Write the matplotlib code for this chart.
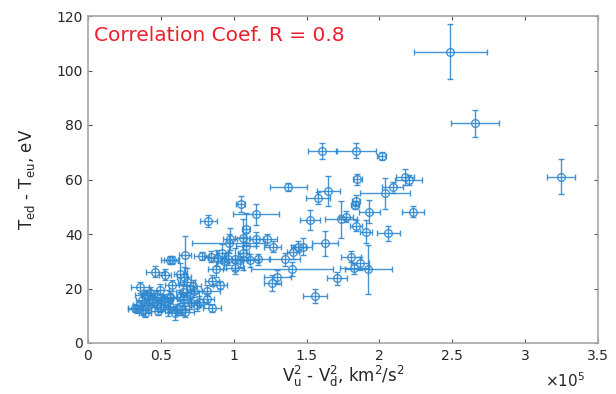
import matplotlib
matplotlib.use("Agg")
import matplotlib.pyplot as plt
import numpy as np

# x: V_u^2 - V_d^2 in units of 1e5 km^2/s^2 ; y: T_ed - T_eu in eV
v2_diff = [2.485, 2.654, 3.244, 1.608, 1.839, 2.016, 1.848, 2.176, 2.200, 2.090,
           1.375, 1.649, 1.579, 2.040, 1.839, 1.832, 1.931, 2.233, 1.734, 1.771,
           1.524, 1.839, 1.908, 2.061, 1.627, 1.478, 1.444, 1.405, 1.352, 1.805,
           1.867, 1.826, 1.924, 1.398, 1.707, 1.558, 1.300, 1.265,
           1.048, 1.153, 0.826, 1.085, 0.975, 1.062, 1.153, 1.226, 0.965, 1.086,
           1.267, 0.666, 0.561, 0.575, 0.780, 0.845, 0.885, 0.930, 0.960, 1.009,
           1.040, 1.066, 1.112, 1.169, 0.920, 1.009, 0.875, 0.906, 0.850,
           0.460, 0.530, 0.631, 0.658, 0.677, 0.357, 0.577, 0.723, 0.815, 0.391,
           0.426, 0.368, 0.448, 0.334, 0.380, 0.494, 0.551, 0.609, 0.666, 0.597,
           0.764, 0.851, 0.815, 0.746, 0.700, 0.631, 0.654, 0.563, 0.528, 0.471,
           0.414, 0.357, 0.391, 0.480, 0.494, 0.654, 0.730, 0.710, 0.520, 0.560,
           0.403, 0.437, 0.323, 0.471, 0.563, 0.643]
dT = [106.9, 80.6, 61.0, 70.5, 70.6, 68.6, 60.1, 61.0, 59.8, 57.1,
      57.3, 55.8, 53.1, 54.9, 52.2, 50.6, 48.2, 48.2, 45.4, 46.3,
      45.1, 43.1, 40.9, 40.2, 36.6, 35.4, 35.4, 33.3, 30.7, 31.7,
      29.2, 27.4, 27.0, 27.2, 23.7, 17.3, 24.3, 21.9,
      51.0, 47.2, 44.6, 41.8, 38.1, 38.4, 38.1, 38.1, 36.6, 35.5,
      35.4, 32.4, 30.6, 30.6, 31.8, 31.7, 31.3, 30.0, 31.0, 30.7,
      30.5, 32.9, 30.3, 30.7, 33.0, 27.5, 27.2, 21.3, 22.8,
      26.2, 25.0, 25.3, 24.4, 22.5, 20.4, 21.2, 21.0, 19.2, 17.6,
      18.2, 15.8, 15.2, 12.4, 12.1, 13.3, 12.5, 12.4, 11.5, 10.9,
      15.2, 12.7, 16.2, 13.9, 18.2, 17.0, 16.0, 17.0, 15.5, 17.0,
      14.0, 14.0, 11.0, 11.6, 19.5, 18.8, 19.0, 14.5, 16.0, 16.5,
      17.6, 15.8, 12.7, 13.9, 13.3, 12.1]
x_err = [0.25, 0.165, 0.095, 0.10, 0.14, 0.03, 0.03, 0.06, 0.09, 0.07,
         0.125, 0.08, 0.08, 0.17, 0.03, 0.03, 0.07, 0.075, 0.11, 0.05,
         0.07, 0.04, 0.04, 0.08, 0.09, 0.06, 0.05, 0.04, 0.10, 0.07,
         0.06, 0.10, 0.16, 0.28, 0.07, 0.08, 0.09, 0.06,
         0.03, 0.157, 0.06, 0.03, 0.05, 0.05, 0.05, 0.07, 0.25, 0.07,
         0.06, 0.04, 0.06, 0.05, 0.05, 0.05, 0.06, 0.04, 0.05, 0.05,
         0.05, 0.04, 0.06, 0.07, 0.04, 0.06, 0.05, 0.05, 0.05,
         0.06, 0.04, 0.04, 0.05, 0.06, 0.06, 0.05, 0.05, 0.09, 0.07,
         0.05, 0.04, 0.05, 0.06, 0.05, 0.06, 0.05, 0.06, 0.06, 0.05,
         0.06, 0.06, 0.05, 0.05, 0.06, 0.05, 0.04, 0.05, 0.05, 0.05,
         0.05, 0.05, 0.04, 0.05, 0.06, 0.05, 0.05, 0.05, 0.05, 0.05,
         0.04, 0.05, 0.05, 0.05, 0.05, 0.05]
y_err = [10.0, 4.9, 6.4, 2.9, 2.7, 1.5, 2.0, 2.9, 2.0, 2.0,
         1.5, 5.4, 2.2, 5.7, 2.0, 1.5, 4.3, 2.0, 6.7, 2.0,
         3.8, 2.0, 4.3, 2.8, 4.5, 3.0, 2.0, 2.5, 2.5, 2.0,
         2.5, 2.0, 8.9, 2.6, 2.5, 2.7, 2.5, 3.0,
         3.0, 3.9, 2.2, 6.0, 4.0, 7.0, 2.5, 2.0, 3.5, 5.0,
         2.0, 7.0, 1.5, 1.5, 1.5, 2.0, 3.0, 3.0, 2.5, 4.0,
         2.5, 6.0, 2.5, 2.0, 3.5, 2.0, 3.0, 1.5, 2.0,
         2.0, 2.0, 4.0, 3.5, 5.0, 2.0, 2.0, 2.0, 2.0, 2.0,
         2.5, 2.0, 2.0, 1.5, 2.0, 2.0, 2.5, 2.0, 2.0, 2.5,
         2.0, 1.5, 2.0, 2.0, 3.0, 2.5, 2.0, 2.0, 1.5, 2.0,
         2.5, 1.5, 1.5, 1.5, 2.0, 3.0, 2.0, 2.0, 2.0, 2.0,
         2.0, 2.0, 1.5, 2.0, 2.0, 2.0]

x_ticks = [0, 0.5, 1, 1.5, 2, 2.5, 3, 3.5]
y_ticks = [0, 20, 40, 60, 80, 100, 120]

plt.rcParams['font.family'] = ['DejaVu Sans']
fig = plt.figure(figsize=(6.16, 3.94), dpi=100)
ax = fig.add_axes([88/616, 51/394, 510/616, 327/394])

ax.errorbar(v2_diff, dT, xerr=x_err, yerr=y_err, fmt='o', ms=5.5, mfc='none',
            mec='#3089cf', ecolor='#3089cf', elinewidth=1.0, capsize=2.5,
            capthick=1.0, mew=1.0, alpha=0.9)

ax.set_xlim(0, 3.5)
ax.set_ylim(0, 120)
ax.set_xticks(x_ticks)
ax.set_xticklabels([f"{t:g}" for t in x_ticks])
ax.set_yticks(y_ticks)
gray = '#a6a6a6'
for s in ax.spines.values():
    s.set_color(gray)
    s.set_linewidth(1.2)
ax.tick_params(direction='in', top=True, right=True, length=3, color='#555555',
               labelsize=10, labelcolor='#262626', pad=4)

ax.set_xlabel(r'V$_\mathregular{u}^\mathregular{2}$ - V$_\mathregular{d}^\mathregular{2}$, km$^\mathregular{2}$/s$^\mathregular{2}$',
              fontsize=12, color='#262626', labelpad=1)
ax.set_ylabel(r'T$_\mathregular{ed}$ - T$_\mathregular{eu}$, eV', fontsize=12,
              color='#262626', labelpad=14)
fig.text(545/616, 1 - 381/394, r'$\times$10$^\mathregular{5}$', fontsize=11,
         color='#262626', va='center', ha='left')

ax.text(0.012, 0.94, 'Correlation Coef. R = 0.8', transform=ax.transAxes,
        color='#f01e2c', fontsize=14.5, va='center', ha='left')

fig.savefig('out.png', dpi=100)
